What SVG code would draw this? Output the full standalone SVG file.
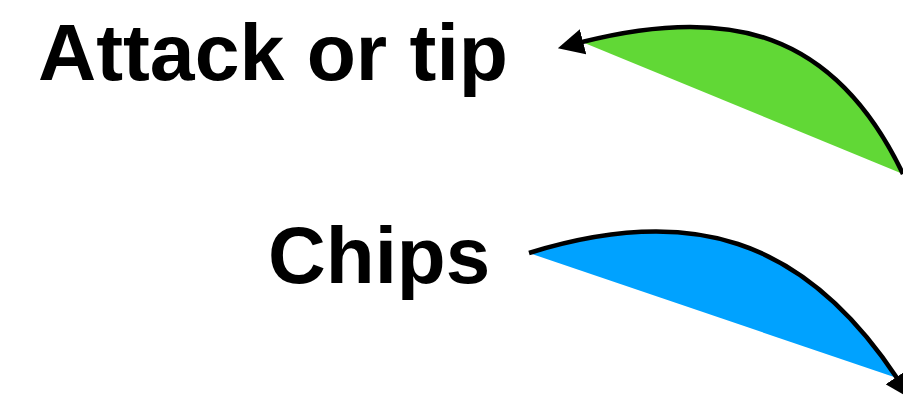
<svg xmlns="http://www.w3.org/2000/svg" width="903" height="396" viewBox="0 0 903 396">
<style>
.lbl{font-family:"Liberation Sans",Arial,Helvetica,sans-serif;font-weight:bold;font-size:80px;fill:#000}
.arc{fill:none;stroke:#000;stroke-width:4.5}
</style>
<defs>
<marker id="ah" markerUnits="userSpaceOnUse" markerWidth="26" markerHeight="26" viewBox="0 0 24 24" refX="1" refY="12" orient="auto">
<path d="M0,0 L24,12 L0,24 Z" fill="#000"/>
</marker>
</defs>
<rect width="903" height="396" fill="#fff"/>
<g id="attack">
<path d="M582,42 C727.8,5 834.2,30 903,174 Z" fill="#61D836"/>
<text class="lbl" x="38" y="80" textLength="470" lengthAdjust="spacingAndGlyphs">Attack or tip</text>
</g>
<g id="chips">
<path d="M529,253 C689,203.4 803.5,236.9 897,378 Z" fill="#00A2FF"/>
<text class="lbl" x="268" y="283">Chips</text>
</g>
<g id="connectors">
<path class="arc" d="M903,174 C834.2,30 727.8,5 582,42" marker-end="url(#ah)"/>
<path class="arc" d="M529,253 C689,203.4 803.5,236.9 897,378" marker-end="url(#ah)"/>
</g>
</svg>
